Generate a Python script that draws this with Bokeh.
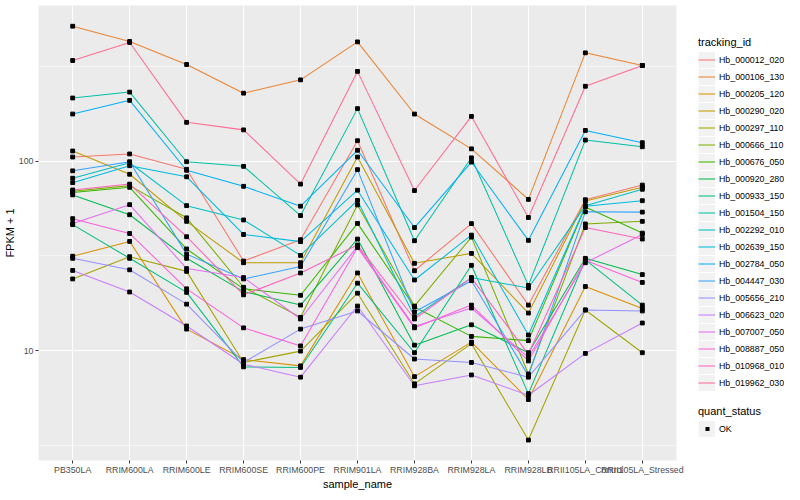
from bokeh.plotting import figure
from bokeh.layouts import row
from bokeh.models import (ColumnDataSource, Range1d, FixedTicker, Legend, LegendItem)
from bokeh.embed import file_html
from bokeh.resources import INLINE

# ---------------- data ----------------
sample_names = ["PB350LA", "RRIM600LA", "RRIM600LE", "RRIM600SE", "RRIM600PE",
                "RRIM901LA", "RRIM928BA", "RRIM928LA", "RRIM928LB",
                "RRII105LA_Control", "RRII105LA_Stressed"]

tracking_ids = ["Hb_000012_020", "Hb_000106_130", "Hb_000205_120", "Hb_000290_020",
                "Hb_000297_110", "Hb_000666_110", "Hb_000676_050", "Hb_000920_280",
                "Hb_000933_150", "Hb_001504_150", "Hb_002292_010", "Hb_002639_150",
                "Hb_002784_050", "Hb_004447_030", "Hb_005656_210", "Hb_006623_020",
                "Hb_007007_050", "Hb_008887_050", "Hb_010968_010", "Hb_019962_030"]

palette = ["#F8766D", "#EA8331", "#D89000", "#C09B00", "#A3A500", "#7CAE00",
           "#39B600", "#00BB4E", "#00BF7D", "#00C1A3", "#00BFC4", "#00BAE0",
           "#00B0F6", "#35A2FF", "#9590FF", "#C77CFF", "#E76BF3", "#FA62DB",
           "#FF62BC", "#FF6C91"]

# FPKM + 1 per sample (same order as sample_names)
fpkm_000012_020 = [105, 109, 90.5, 29.7, 38.5, 128, 26.4, 46.8, 17.4, 62.5, 74.7]
fpkm_000106_130 = [514, 427, 323, 228, 268, 425, 177, 116, 62.8, 372, 319]
fpkm_000205_120 = [31.5, 37.7, 13.0, 8.98, 8.32, 25.7, 7.30, 11.1, 5.53, 21.8, 16.7]
fpkm_000290_020 = [113, 85.2, 48.1, 29.1, 29.1, 105, 28.9, 32.6, 15.8, 61.5, 72.7]
fpkm_000297_110 = [23.9, 31.3, 26.2, 8.67, 9.95, 20.1, 6.69, 10.9, 3.38, 16.4, 9.76]
fpkm_000666_110 = [69.3, 74.2, 50.2, 21.6, 15.0, 58.7, 17.2, 39.7, 7.54, 46.6, 48.1]
fpkm_000676_050 = [68.3, 72.7, 34.4, 21.2, 19.6, 46.9, 17.0, 11.9, 11.3, 57.3, 41.7]
fpkm_000920_280 = [66.3, 52.1, 30.7, 20.5, 17.4, 38.8, 10.7, 13.7, 9.76, 30.7, 25.2]
fpkm_000933_150 = [46.2, 30.7, 20.3, 8.22, 8.16, 22.7, 9.76, 28.2, 5.94, 30.1, 17.4]
fpkm_001504_150 = [215, 231, 99.2, 93.8, 51.6, 189, 38.0, 104, 22.1, 129, 119]
fpkm_002292_010 = [81.2, 98.0, 58.2, 48.9, 31.8, 62.0, 15.1, 24.3, 21.4, 58.2, 71.0]
fpkm_002639_150 = [76.9, 94.5, 82.6, 41.0, 37.6, 70.2, 23.6, 40.7, 12.1, 57.8, 61.8]
fpkm_002784_050 = [177, 209, 89.4, 73.6, 57.8, 114, 44.6, 98.8, 38.2, 145, 125]
fpkm_004447_030 = [88.8, 99.2, 32.3, 23.9, 27.8, 90.1, 16.0, 23.4, 7.39, 54.0, 53.8]
fpkm_005656_210 = [30.7, 26.7, 17.6, 8.67, 13.0, 16.2, 9.04, 8.67, 7.25, 16.4, 16.2]
fpkm_006623_020 = [26.5, 20.4, 13.5, 8.49, 7.25, 17.2, 6.53, 7.45, 5.82, 9.68, 14.0]
fpkm_007007_050 = [46.9, 58.9, 27.1, 24.3, 14.7, 35.5, 13.4, 16.8, 9.23, 29.1, 41.0]
fpkm_008887_050 = [49.7, 41.5, 21.2, 13.2, 10.6, 35.0, 13.2, 17.4, 8.83, 30.0, 22.9]
fpkm_010968_010 = [70.4, 75.6, 39.9, 19.7, 25.7, 36.1, 14.7, 24.2, 9.57, 44.6, 38.8]
fpkm_019962_030 = [339, 422, 160, 146, 75.6, 297, 69.9, 172, 50.4, 248, 319]

series = [fpkm_000012_020, fpkm_000106_130, fpkm_000205_120, fpkm_000290_020,
          fpkm_000297_110, fpkm_000666_110, fpkm_000676_050, fpkm_000920_280,
          fpkm_000933_150, fpkm_001504_150, fpkm_002292_010, fpkm_002639_150,
          fpkm_002784_050, fpkm_004447_030, fpkm_005656_210, fpkm_006623_020,
          fpkm_007007_050, fpkm_008887_050, fpkm_010968_010, fpkm_019962_030]

quant_status = ["OK"]

y_major = [10, 100]
y_minor = [3.1623, 31.623, 316.23]

# ---------------- main figure ----------------
FONT = "Liberation Sans"
n = len(sample_names)
xs = list(range(n))

p = figure(width=684, height=492, y_axis_type="log",
           x_range=Range1d(-0.6, n - 1 + 0.6), y_range=Range1d(2.637, 661),
           output_backend="svg", toolbar_location=None,
           min_border_left=32, min_border_right=8, min_border_top=5,
           min_border_bottom=0,
           background_fill_color="#EBEBEB", border_fill_color="white",
           outline_line_color=None)

p.xgrid.ticker = FixedTicker(ticks=xs)
p.xgrid.grid_line_color = "white"
p.xgrid.grid_line_width = 1.1
p.ygrid.grid_line_color = "white"
p.ygrid.grid_line_width = 1.1
p.ygrid.minor_grid_line_color = "white"
p.ygrid.minor_grid_line_width = 0.55

p.xaxis.ticker = FixedTicker(ticks=xs)
p.xaxis.major_label_overrides = {i: s for i, s in enumerate(sample_names)}
p.yaxis.ticker = FixedTicker(ticks=y_major, minor_ticks=y_minor)
p.yaxis.major_label_overrides = {v: str(v) for v in y_major}
for ax in (p.xaxis, p.yaxis):
    ax.axis_line_color = None
    ax.major_tick_line_color = "#333333"
    ax.major_tick_in = 0
    ax.major_tick_out = 3
    ax.minor_tick_line_color = None
    ax.major_label_text_color = "#4D4D4D"
    ax.major_label_text_font = FONT
    ax.major_label_text_font_size = "8.8px"
    ax.major_label_text_line_height = 1.0
    ax.major_label_standoff = 1
    ax.axis_label_text_font = FONT
    ax.axis_label_text_font_size = "11px"
    ax.axis_label_text_font_style = "normal"
    ax.axis_label_text_color = "black"
    ax.axis_label_text_line_height = 1.0
    ax.axis_label_standoff = 0
p.xaxis.axis_label = "sample_name"
p.yaxis.axis_label = "FPKM + 1"

for col, vals in zip(palette, series):
    src = ColumnDataSource(dict(x=xs, y=vals))
    p.line("x", "y", source=src, line_color=col, line_width=1.05)

all_x, all_y = [], []
for vals in series:
    all_x.extend(xs)
    all_y.extend(vals)
p.scatter(all_x, all_y, marker="square", size=3.8, color="black")

# ---------------- legend panel ----------------
lg_fig = figure(width=100, height=492, x_range=Range1d(0, 1), y_range=Range1d(0, 1),
                output_backend="svg", toolbar_location=None,
                x_axis_location=None, y_axis_location=None,
                min_border=0, outline_line_color=None,
                background_fill_color="white", border_fill_color="white")
lg_fig.grid.visible = False

# key renderers sit outside the visible range; they only show in the legends
off = dict(x=[5], y=[5])
key_bg = lg_fig.line(line_color="#F2F2F2", line_width=16, **off)
items = []
for tid, col in zip(tracking_ids, palette):
    r = lg_fig.line(line_color=col, line_width=1.05, **off)
    items.append(LegendItem(label=tid, renderers=[key_bg, r]))
# small square key for the point legend (a short thick dash in the key centre)
pt_key = lg_fig.line(line_color="black", line_width=4, line_dash="0 7 4 20",
                     line_cap="butt", **off)
qs_items = [LegendItem(label=quant_status[0], renderers=[key_bg, pt_key])]


def style_legend(lg):
    lg.title_text_font = FONT
    lg.title_text_font_size = "11px"
    lg.title_text_font_style = "normal"
    lg.title_text_color = "black"
    lg.title_standoff = 3
    lg.label_text_font = FONT
    lg.label_text_font_size = "8.8px"
    lg.label_text_color = "black"
    lg.glyph_width = 17
    lg.glyph_height = 17
    lg.label_height = 17
    lg.label_standoff = 4
    lg.spacing = 0
    lg.padding = 0
    lg.margin = 0
    lg.background_fill_alpha = 0
    lg.border_line_color = None


leg1 = Legend(items=items, title="tracking_id", location=(14, 69))
style_legend(leg1)
leg2 = Legend(items=qs_items, title="quant_status", location=(14, 23))
style_legend(leg2)
lg_fig.add_layout(leg1, "center")
lg_fig.add_layout(leg2, "center")

layout = row(p, lg_fig, spacing=0)
open("out.html", "w").write(file_html(layout, INLINE))
